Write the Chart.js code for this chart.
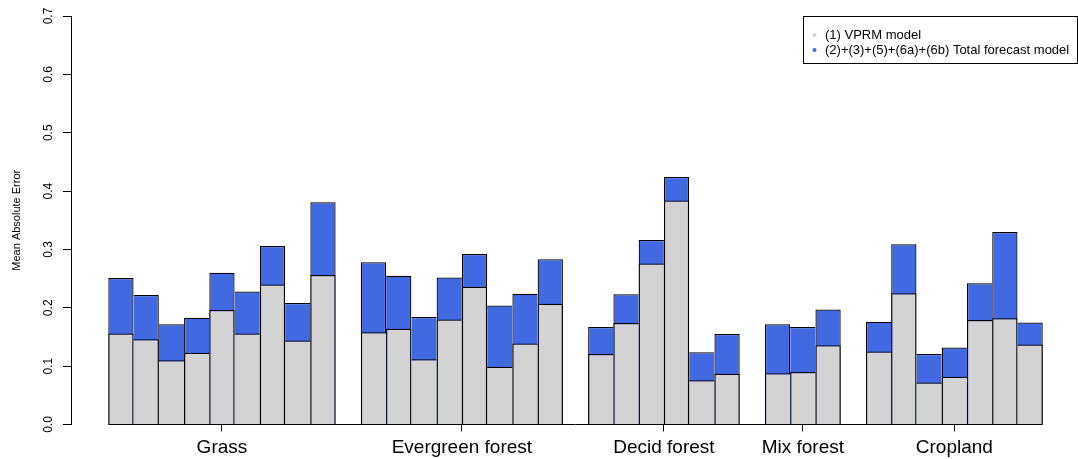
<!DOCTYPE html>
<html>
<head>
<meta charset="utf-8">
<title>Mean Absolute Error by land cover</title>
<script src="https://cdn.jsdelivr.net/npm/chart.js@4.4.1/dist/chart.umd.min.js"></script>
<style>
  html, body { margin: 0; padding: 0; background: #fff; }
  #wrap { width: 1078px; height: 459px; }
</style>
</head>
<body>
<div id="wrap"><canvas id="chart" width="1078" height="459"></canvas></div>
<script>
// ---- data ----
const categories = ['Grass', 'Evergreen forest', 'Decid forest', 'Mix forest', 'Cropland'];
const seriesLabels = ['(1) VPRM model', '(2)+(3)+(5)+(6a)+(6b) Total forecast model'];
const yTicks = [0.0, 0.1, 0.2, 0.3, 0.4, 0.5, 0.6, 0.7];

const grassVprm      = [0.156, 0.146, 0.110, 0.123, 0.196, 0.156, 0.240, 0.144, 0.256];
const grassTotal     = [0.251, 0.222, 0.172, 0.183, 0.260, 0.228, 0.306, 0.208, 0.381];
const evergreenVprm  = [0.158, 0.164, 0.112, 0.180, 0.236, 0.099, 0.139, 0.207];
const evergreenTotal = [0.278, 0.255, 0.184, 0.252, 0.292, 0.204, 0.224, 0.283];
const decidVprm      = [0.121, 0.174, 0.276, 0.384, 0.076, 0.087];
const decidTotal     = [0.167, 0.223, 0.316, 0.424, 0.124, 0.155];
const mixVprm        = [0.088, 0.090, 0.136];
const mixTotal       = [0.172, 0.167, 0.197];
const croplandVprm   = [0.125, 0.225, 0.072, 0.082, 0.179, 0.182, 0.137];
const croplandTotal  = [0.176, 0.309, 0.121, 0.132, 0.242, 0.330, 0.175];

const vprmByCategory  = [grassVprm, evergreenVprm, decidVprm, mixVprm, croplandVprm];
const totalByCategory = [grassTotal, evergreenTotal, decidTotal, mixTotal, croplandTotal];

// ---- slot layout: one slot per bar, one empty slot between land covers ----
const slotX = [];
const groupCenters = [];
let slot = 0;
vprmByCategory.forEach(values => {
  const first = slot;
  values.forEach(() => { slotX.push(slot); slot += 1; });
  groupCenters.push((first + slot - 1) / 2);
  slot += 1;
});

const toPoints = groups => groups.flat().map((v, i) => ({ x: slotX[i], y: v }));

const FONT = '"Liberation Sans", Arial, Helvetica, sans-serif';
Chart.defaults.font.family = FONT;
Chart.defaults.color = '#000';

const EDGE = 1.25;

// Shared edges between neighbouring bars are drawn once, by the taller bar.
function edgeWidths(ctx) {
  const data = ctx.dataset.data;
  const i = ctx.dataIndex;
  const cur = data[i];
  if (!cur) return 0;
  const prev = data[i - 1];
  const next = data[i + 1];
  const prevAdj = prev && prev.x === cur.x - 1;
  const nextAdj = next && next.x === cur.x + 1;
  return {
    top: EDGE,
    bottom: 0,
    left: (!prevAdj || prev.y <= cur.y) ? EDGE : 0,
    right: (!nextAdj || next.y < cur.y) ? EDGE : 0
  };
}

// Horizontal axis line running from the first bar to the last one.
const baselinePlugin = {
  id: 'baseline',
  afterDatasetsDraw(chart) {
    const { ctx, scales: { x, y } } = chart;
    const y0 = y.getPixelForValue(0);
    ctx.save();
    ctx.strokeStyle = '#000';
    ctx.lineWidth = 1;
    ctx.beginPath();
    ctx.moveTo(x.getPixelForValue(slotX[0] - 0.5), y0);
    ctx.lineTo(x.getPixelForValue(slotX[slotX.length - 1] + 0.5), y0);
    ctx.stroke();
    ctx.restore();
  }
};

// Boxed legend in the top-right corner.
const boxLegendPlugin = {
  id: 'boxLegend',
  afterDraw(chart, args, o) {
    const { ctx } = chart;
    ctx.save();
    ctx.strokeStyle = '#000';
    ctx.lineWidth = 1;
    ctx.strokeRect(o.left + 0.5, o.top + 0.5, o.width, o.height);
    ctx.font = o.fontSize + 'px ' + FONT;
    ctx.textBaseline = 'middle';
    ctx.textAlign = 'left';
    chart.data.datasets.forEach((ds, i) => {
      const cy = o.firstLine + i * o.lineGap;
      ctx.beginPath();
      ctx.arc(o.dotX, cy, o.dotR, 0, Math.PI * 2);
      ctx.fillStyle = ds.backgroundColor;
      ctx.fill();
      ctx.fillStyle = '#000';
      ctx.fillText(ds.label, o.textX, cy);
    });
    ctx.restore();
  }
};

const barStyle = {
  borderColor: '#000',
  borderWidth: edgeWidths,
  borderSkipped: false,
  grouped: false,
  barPercentage: 1,
  categoryPercentage: 1,
  inflateAmount: 0
};

new Chart(document.getElementById('chart'), {
  type: 'bar',
  data: {
    datasets: [
      Object.assign({ label: seriesLabels[0], data: toPoints(vprmByCategory), backgroundColor: '#d3d3d3' }, barStyle),
      Object.assign({ label: seriesLabels[1], data: toPoints(totalByCategory), backgroundColor: '#4169e1' }, barStyle)
    ]
  },
  options: {
    responsive: false,
    animation: false,
    devicePixelRatio: 1,
    layout: { padding: { top: 16, right: 10, bottom: 0, left: 0 } },
    plugins: {
      legend: { display: false },
      tooltip: { enabled: false },
      boxLegend: {
        left: 803, top: 16, width: 274, height: 47,
        dotX: 814.5, dotR: 2, textX: 825,
        firstLine: 35, lineGap: 15, fontSize: 13
      }
    },
    scales: {
      x: {
        type: 'linear',
        min: -1.977,
        max: 37.5,
        offset: false,
        grid: { display: true, drawOnChartArea: false, drawTicks: true, tickLength: 7, color: '#000', lineWidth: 1, offset: false },
        border: { display: false },
        afterBuildTicks: s => { s.ticks = groupCenters.map(v => ({ value: v })); },
        afterFit: s => { s.height = 34.5; },
        ticks: {
          autoSkip: false, minRotation: 0, maxRotation: 0, padding: 5,
          font: { size: 19 }, color: '#000',
          callback: (v, i) => categories[i]
        }
      },
      y: {
        type: 'linear',
        min: 0,
        max: 0.7,
        afterBuildTicks: s => { s.ticks = yTicks.map(v => ({ value: v })); },
        afterFit: s => { s.width = 71; },
        grid: { display: true, drawOnChartArea: false, drawTicks: true, tickLength: 8, color: '#000', lineWidth: 1 },
        border: { display: true, color: '#000', width: 1 },
        ticks: {
          minRotation: 90, maxRotation: 90, crossAlign: 'center', padding: 6,
          font: { size: 12 }, color: '#000',
          callback: v => Number(v).toFixed(1)
        },
        title: {
          display: true, text: 'Mean Absolute Error',
          font: { size: 11 }, color: '#000',
          padding: { top: 10, bottom: 0 }
        }
      }
    }
  },
  plugins: [baselinePlugin, boxLegendPlugin]
});
</script>
</body>
</html>
